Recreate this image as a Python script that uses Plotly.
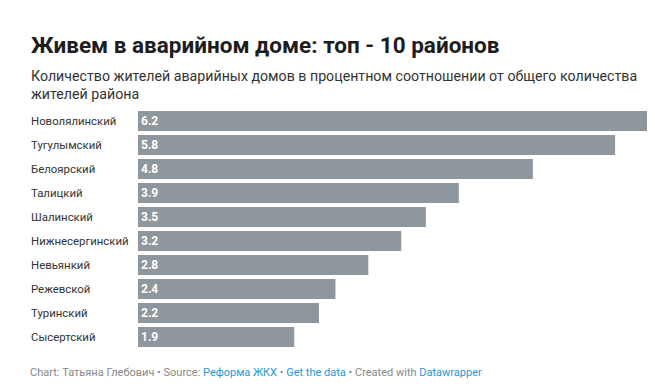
import plotly.graph_objects as go

categories = ["Новолялинский", "Тугулымский", "Белоярский", "Талицкий", "Шалинский",
              "Нижнесергинский", "Невьянкий", "Режевской", "Туринский", "Сысертский"]
values = [6.2, 5.8, 4.8, 3.9, 3.5, 3.2, 2.8, 2.4, 2.2, 1.9]

title = "Живем в аварийном доме: топ - 10 районов"
subtitle = ("Количество жителей аварийных домов в процентном соотношении от общего количества<br>"
            "жителей района")

OFF = 8  # page body margin
W, H = 655 - OFF, 387 - OFF
ML = 138 - OFF
MR = W - (648 - OFF)
MT = 109 - OFF
MB = H - (349 - OFF)
PH = H - MT - MB
PW = W - ML - MR

def py(p):  # screen pixel y -> paper
    return (H - MB - (p - OFF)) / PH

def px(p):  # screen pixel x -> paper
    return ((p - OFF) - ML) / PW

FONT = "Roboto"

fig = go.Figure(go.Bar(
    x=values, y=categories, orientation="h",
    marker=dict(color="#8f979e", line=dict(width=0)),
    text=[f"{v:.1f}" for v in values],
    textposition="inside", insidetextanchor="start",
    textfont=dict(family=FONT, size=12, color="white", weight="bold"),
    cliponaxis=False, hoverinfo="skip",
))

annotations = []
for c in categories:
    annotations.append(dict(
        x=px(29), y=c, xref="paper", yref="y", text=c, showarrow=False,
        xanchor="left", yanchor="middle",
        font=dict(family=FONT, size=11.4, color="#333333"),
    ))

annotations.append(dict(
    x=px(29), y=py(45), xref="paper", yref="paper", text=title, showarrow=False,
    xanchor="left", yanchor="middle",
    font=dict(family=FONT, size=22.5, color="#1d1d1d", weight="bold"),
))
annotations.append(dict(
    x=px(29), y=py(84.5), xref="paper", yref="paper", text=subtitle, showarrow=False,
    xanchor="left", yanchor="middle", align="left",
    font=dict(family=FONT, size=14.2, color="#333333"),
))
footer = ("Chart: Татьяна Глебович • Source: <span style='color:#1d9ad6'>Реформа ЖКХ</span> • "
          "<span style='color:#1d9ad6'>Get the data</span> • Created with "
          "<span style='color:#1d9ad6'>Datawrapper</span>")
annotations.append(dict(
    x=px(28), y=py(372), xref="paper", yref="paper", text=footer, showarrow=False,
    xanchor="left", yanchor="middle",
    font=dict(family=FONT, size=11, color="#888888"),
))

fig.update_layout(
    width=W, height=H,
    margin=dict(l=ML, r=MR, t=MT, b=MB),
    paper_bgcolor="white", plot_bgcolor="white",
    showlegend=False,
    bargap=0.17,
    xaxis=dict(range=[0, 6.2], visible=False, fixedrange=True),
    yaxis=dict(autorange="reversed", showticklabels=False, showgrid=False,
               zeroline=False, fixedrange=True),
    annotations=annotations,
    uniformtext=dict(minsize=12, mode="show"),
)

fig.write_html("out.html", config={"displayModeBar": False})
